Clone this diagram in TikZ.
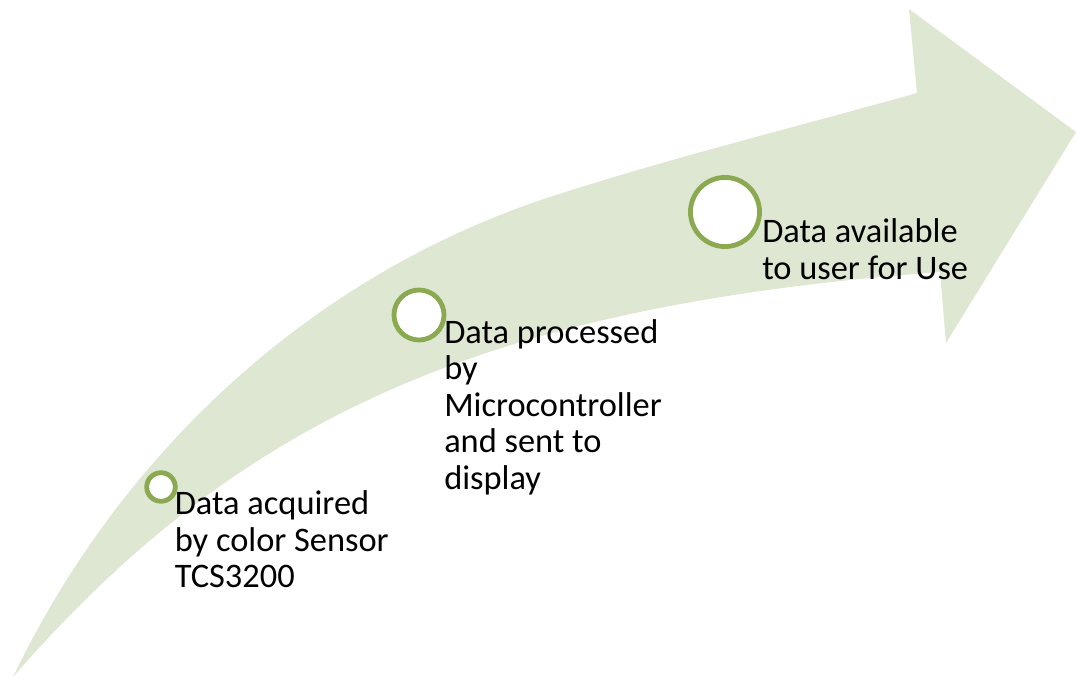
\documentclass[tikz,border=0pt]{standalone}
\usepackage{fontspec}
\setmainfont{Carlito}
\usepackage{tikz}
\usetikzlibrary{positioning}
\definecolor{arrowfill}{RGB}{222,231,209}
\definecolor{ringgreen}{RGB}{138,169,80}
\tikzset{
ring/.style={circle, draw=ringgreen, line width=3.6pt, fill=white, inner sep=0pt}, % the white dots with a green rim
stagetext/.style={anchor=base west, align=left, inner sep=0pt, font=\fontsize{25.8}{27.45}\selectfont}, % the text beside each dot, anchored at its last line
}

\begin{document}
\begin{tikzpicture}[x=0.75pt, y=-0.75pt]
                \useasboundingbox (0,0) rectangle (1076,677);
                % the big curved arrow
                \fill[arrowfill] (13,677) .. controls (242.6,413) and (491,305.75) .. (940,272)
                    -- (946,343) -- (1076,132) -- (909,9) -- (917,93)
                    .. controls (800,126) and (670,158) .. (550,197)
                    .. controls (312.5,274.5) and (121,452) .. (13,677) -- cycle;
                \node[ring, minimum size=21.4pt] (dot1) at (161,487) {};
                \node[ring, minimum size=37.5pt] (dot2) at (419,315) {};
                \node[ring, minimum size=51.8pt] (dot3) at (725,212) {};
                \node[stagetext] (txt1) at (174.5,588) {Data acquired\\by color Sensor\\TCS3200};
                \node[stagetext] (txt2) at (444,489.5) {Data processed\\by\\Microcontroller\\and sent to\\display};
                \node[stagetext] (txt3) at (762,279.6) {Data available\\to user for Use};
            \end{tikzpicture}
\end{document}
